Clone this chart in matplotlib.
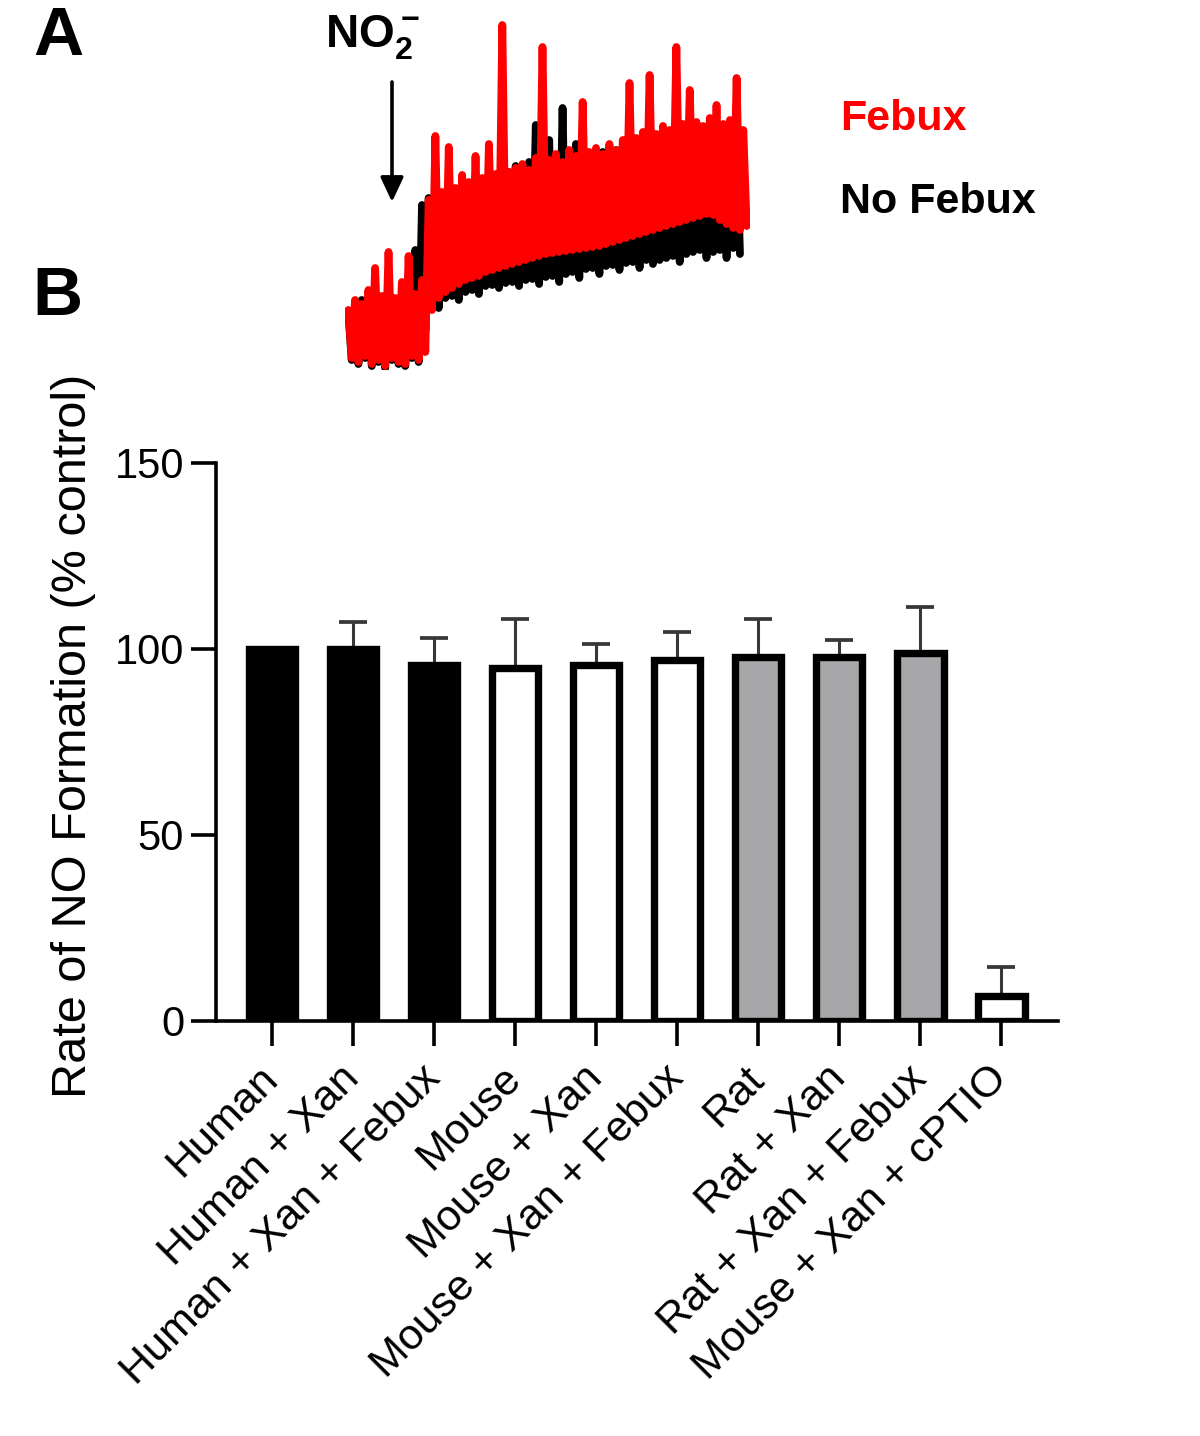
import numpy as np
import matplotlib
matplotlib.use('Agg')
import matplotlib.pyplot as plt

plt.rcParams['font.family'] = ['Liberation Sans', 'DejaVu Sans']
plt.rcParams['mathtext.fontset'] = 'custom'
plt.rcParams['mathtext.rm'] = 'Liberation Sans'
plt.rcParams['mathtext.bf'] = 'Liberation Sans:bold'

# ---------------- Panel B data ----------------
categories = ['Human', 'Human + Xan', 'Human + Xan + Febux',
              'Mouse', 'Mouse + Xan', 'Mouse + Xan + Febux',
              'Rat', 'Rat + Xan', 'Rat + Xan + Febux',
              'Mouse + Xan + cPTIO']
rate_mean = [100, 100, 95.6, 94.9, 95.6, 97.0, 97.9, 97.9, 98.8, 6.7]
rate_err = [0, 7.2, 7.3, 13.1, 5.7, 7.7, 10.2, 4.5, 12.6, 7.9]
bar_fill = ['black', 'black', 'black', 'white', 'white', 'white',
            '#a7a7a9', '#a7a7a9', '#a7a7a9', 'white']
y_ticks = [0, 50, 100, 150]

# ---------------- Panel A data (trace, arbitrary units) ----------------
febux_trace = [60, 12, 70, 8, 66, 14, 80, 6, 102, 10, 74, 4, 118, 12, 72, 8,
               88, 6, 114, 14, 76, 10, 90, 18, 170, 60, 234, 72, 178, 78, 223, 82,
               182, 86, 195, 90, 188, 92, 214, 94, 192, 98, 226, 100, 196, 102, 345, 104,
               198, 106, 202, 108, 206, 110, 200, 112, 212, 114, 323, 116, 210, 117,
               216, 118, 208, 119, 220, 120, 214, 121, 268, 122, 218, 123, 222, 124,
               216, 126, 226, 128, 220, 130, 230, 132, 287, 134, 232, 136, 238, 138,
               295, 140, 236, 142, 244, 144, 240, 146, 323, 148, 246, 150, 280, 152,
               248, 154, 244, 156, 252, 155, 265, 150, 246, 146, 250, 142, 292, 140,
               240, 144]
no_febux_trace = [58, 10, 66, 6, 70, 12, 64, 4, 76, 8, 68, 2, 72, 10, 70, 6,
                  74, 4, 68, 12, 120, 8, 165, 40, 172, 66, 180, 62, 176, 72, 184, 74,
                  180, 70, 188, 78, 184, 80, 192, 76, 188, 84, 196, 85, 192, 82, 200, 87,
                  198, 88, 204, 84, 200, 90, 208, 91, 245, 86, 214, 93, 230, 94, 210, 88,
                  262, 96, 212, 98, 226, 92, 214, 101, 216, 102, 220, 96, 218, 104,
                  222, 105, 220, 100, 224, 107, 222, 108, 226, 102, 224, 110, 230, 106,
                  226, 110, 232, 112, 228, 114, 234, 108, 230, 116, 236, 118, 232, 120,
                  238, 112, 234, 118, 240, 120, 236, 112, 242, 122, 238, 116]

W, H = 1200, 1436
fig = plt.figure(figsize=(W / 100, H / 100), dpi=100)

def fx(px):
    return px / W

def fy(py):
    return 1 - py / H

# ---------------- Panel A ----------------
axA = fig.add_axes([fx(345), fy(370), fx(750) - fx(345), fy(15) - fy(370)])
axA.plot(np.arange(len(no_febux_trace)), no_febux_trace, color='black', lw=5.6,
         solid_joinstyle='round', solid_capstyle='round')
axA.plot(np.arange(len(febux_trace)), febux_trace, color='#ff0000', lw=5.6,
         solid_joinstyle='round', solid_capstyle='round')
axA.set_xlim(-1, 120)
axA.set_ylim(0, 355)
axA.axis('off')

fig.text(fx(33), fy(55), 'A', fontsize=50, fontweight='bold', ha='left', va='baseline')
fig.text(fx(32), fy(315), 'B', fontsize=50, fontweight='bold', ha='left', va='baseline')
fig.text(fx(325), fy(47), r'$\mathbf{NO_2^-}$', fontsize=33, ha='left', va='baseline')
fig.text(fx(840), fy(130), 'Febux', fontsize=31, fontweight='bold', color='#ff0000',
         ha='left', va='baseline')
fig.text(fx(840), fy(213), 'No Febux', fontsize=31, fontweight='bold', color='black',
         ha='left', va='baseline')
axA.annotate('', xy=(fx(392), fy(202)), xytext=(fx(392), fy(82)),
             xycoords='figure fraction', textcoords='figure fraction',
             arrowprops=dict(arrowstyle='-|>,head_length=0.6,head_width=0.28',
                             mutation_scale=25, lw=2.6, color='black',
                             shrinkA=0, shrinkB=0))

# ---------------- Panel B ----------------
axB = fig.add_axes([fx(216), fy(1021), fx(1058) - fx(216), fy(463) - fy(1021)])
x = np.arange(len(categories))
axB.bar(x, rate_mean, width=0.575, color=bar_fill, edgecolor='black',
        linewidth=5.3, zorder=2)
mean_arr = np.array(rate_mean)
err_arr = np.array(rate_err)
has_err = err_arr > 0
axB.errorbar(x[has_err], mean_arr[has_err],
             yerr=[np.zeros(has_err.sum()), err_arr[has_err]],
             fmt='none', ecolor='#383838', elinewidth=2.2, capsize=10,
             capthick=2.7, zorder=1)

axB.set_xlim(-0.69, 9.70)
axB.set_ylim(0, 150)
axB.set_yticks(y_ticks)
axB.spines['top'].set_visible(False)
axB.spines['right'].set_visible(False)
for s in ['left', 'bottom']:
    axB.spines[s].set_linewidth(2.6)
    axB.spines[s].set_zorder(3)
axB.tick_params(axis='both', width=2.6, length=18, labelsize=30, pad=5)
axB.set_xticks(x)
axB.set_xticklabels(categories, rotation=45, ha='right', va='center',
                    rotation_mode='anchor', fontsize=31)
axB.tick_params(axis='x', pad=19)
axB.set_ylabel('Rate of NO Formation (% control)', fontsize=35)
axB.yaxis.set_label_coords(-0.142, 0.511)

fig.savefig('out.png', dpi=100)
